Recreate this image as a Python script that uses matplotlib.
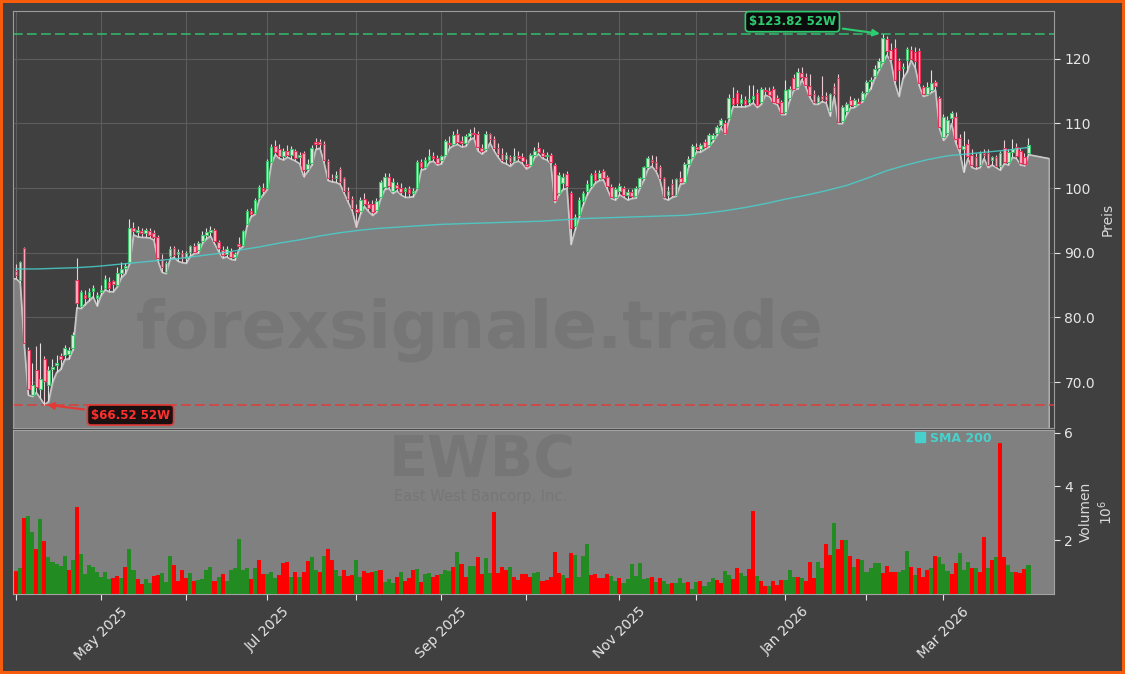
import numpy as np
import pandas as pd
import matplotlib
matplotlib.use('Agg')
import matplotlib.pyplot as plt
from matplotlib.lines import Line2D

# trading calendar (NYSE holidays removed)
holidays = ['2025-04-18', '2025-05-26', '2025-06-19', '2025-07-04', '2025-09-01',
            '2025-11-27', '2025-12-25', '2026-01-01', '2026-01-19', '2026-02-16']
dates = pd.bdate_range('2025-04-01', '2026-03-31')
dates = dates[~dates.isin(pd.to_datetime(holidays))]

# one line per week
opens = [
    87.2, 85.8, 90.8, 75.0,
    68.0, 71.8, 69.0, 73.5, 69.5,
    72.0, 72.6, 74.0, 74.2,
    74.3, 75.2, 85.8, 81.8, 83.5,
    83.2, 84.1, 83.0, 84.0, 84.6,
    85.5, 85.6, 85.0, 86.8, 87.6,
    88.5, 93.8, 93.2, 93.3, 93.0,
    93.3, 93.0, 92.5, 89.0, 87.0,
    89.5, 90.8, 89.8, 90.0,
    89.2, 90.1, 91.0, 90.4, 91.8,
    92.8, 93.2, 93.6, 91.6, 90.5,
    89.8, 90.3, 89.4, 91.3,
    91.2, 94.5, 96.4, 96.2, 98.5,
    100.0, 100.0, 104.0, 106.5,
    106.0, 105.0, 105.8, 105.2, 105.8,
    104.8, 105.5, 103.0, 103.9, 107.2,
    107.2, 106.8, 104.2, 101.6, 101.5,
    102.9, 101.5, 99.6, 98.3, 96.8,
    96.5, 98.3, 97.5, 97.5, 96.6,
    98.6, 100.2, 101.8, 99.6, 100.5,
    100.0, 99.5, 99.8, 99.3, 100.0,
    104.0, 103.3, 104.4, 105.0, 104.6,
    104.3, 105.2, 107.0, 106.9,
    108.3, 107.3, 107.0, 108.0, 108.6,
    108.4, 106.2, 106.0, 108.3, 107.6,
    106.2, 105.3, 104.5, 104.8, 104.2,
    105.0, 104.8, 103.8, 103.6, 105.2,
    106.2, 105.4, 105.0, 105.1, 103.6,
    99.2, 100.8, 102.2, 99.2, 94.2,
    95.8, 98.0, 99.5, 100.4, 102.4,
    101.6, 102.6, 101.7, 100.2, 98.7,
    99.6, 100.0, 99.0, 99.4, 98.8,
    100.2, 101.5, 103.2, 104.3, 104.0,
    103.3, 101.5, 98.9, 100.6, 99.0,
    101.5, 101.0, 103.8, 104.8,
    106.4, 106.0, 107.1, 106.6, 107.6,
    108.5, 109.7, 110.0, 110.8, 114.0,
    114.7, 113.2, 113.6, 113.3, 113.8,
    114.7, 113.3, 115.2, 115.1,
    115.3, 113.9, 113.3, 111.8,
    113.9, 117.0, 115.6, 117.8, 117.2,
    115.8, 114.6, 113.4, 114.2, 114.2,
    112.0, 115.6, 117.0, 110.4,
    112.0, 113.6, 112.9, 113.4, 113.6,
    114.8, 116.6, 117.4, 118.6, 119.5,
    123.0, 121.4, 121.6, 119.6, 118.6,
    119.8, 121.4, 121.0, 121.2,
    115.6, 114.6, 115.2, 116.4, 113.9,
    107.9, 108.5, 110.8, 111.0, 107.8,
    106.0, 106.8, 105.2, 104.8, 103.6,
    105.4, 105.4, 104.4, 104.8, 103.4,
    106.2, 104.0, 105.6, 106.3, 105.8,
    104.8, 105.5,
]
highs = [
    88.2, 88.8, 90.9, 75.5,
    73.0, 75.6, 76.0, 74.0, 72.5,
    73.5, 74.2, 74.5, 75.8,
    75.5, 77.8, 89.2, 84.2, 84.3,
    84.6, 85.0, 84.0, 85.0, 86.5,
    86.2, 85.8, 87.8, 88.5, 88.4,
    95.3, 94.8, 94.2, 93.9, 93.8,
    93.9, 93.6, 92.7, 89.8, 88.8,
    91.0, 91.0, 90.6, 90.5,
    90.3, 91.2, 91.5, 91.8, 93.3,
    93.8, 94.2, 93.9, 92.0, 91.0,
    91.0, 90.8, 90.2, 92.4,
    93.5, 96.8, 97.0, 98.5, 100.5,
    100.8, 104.5, 106.8, 107.5,
    106.9, 106.2, 106.6, 106.5, 106.0,
    105.6, 105.8, 104.5, 106.6, 107.8,
    107.6, 107.3, 104.5, 102.2, 102.6,
    103.3, 101.8, 100.2, 98.8, 97.6,
    98.6, 99.2, 98.0, 98.2, 98.5,
    101.2, 102.4, 102.3, 101.5, 101.0,
    100.8, 100.2, 100.4, 100.0, 104.4,
    104.5, 104.8, 106.0, 105.6, 105.2,
    105.2, 107.6, 108.0, 108.8,
    109.2, 108.0, 108.3, 109.2, 109.4,
    108.8, 106.8, 108.8, 108.6, 108.0,
    107.0, 106.2, 105.6, 105.2, 106.2,
    105.8, 105.4, 104.5, 105.4, 106.3,
    107.2, 106.0, 105.6, 105.5, 103.9,
    102.5, 102.4, 102.6, 99.5, 96.0,
    98.6, 99.6, 101.2, 102.4, 102.8,
    102.8, 102.9, 102.0, 100.6, 100.2,
    100.8, 100.3, 99.8, 99.9, 100.4,
    101.8, 103.5, 104.9, 105.2, 105.0,
    103.6, 101.8, 100.4, 101.4, 101.6,
    102.6, 104.0, 105.0, 106.8,
    107.0, 107.0, 107.6, 108.5, 108.6,
    109.8, 110.8, 110.6, 114.5, 115.6,
    115.2, 114.6, 114.3, 116.0, 116.0,
    115.4, 115.6, 115.6, 115.6,
    115.8, 114.4, 113.6, 116.8,
    115.8, 117.6, 118.6, 118.8, 117.8,
    117.6, 115.2, 114.4, 117.4, 114.8,
    114.7, 116.2, 117.6, 112.8,
    113.4, 114.2, 114.0, 114.0, 115.0,
    116.8, 117.2, 119.0, 120.2, 123.82,
    123.5, 122.5, 123.0, 120.2, 119.4,
    121.8, 122.0, 121.8, 121.6,
    116.0, 116.4, 118.3, 116.8, 114.2,
    111.4, 111.2, 112.0, 111.8, 108.4,
    108.8, 107.6, 106.0, 105.4, 105.8,
    106.0, 106.0, 105.0, 105.2, 105.8,
    107.4, 106.0, 107.6, 107.0, 106.2,
    105.4, 107.7,
]
lows = [
    86.0, 85.4, 75.8, 68.0,
    67.8, 68.4, 67.5, 66.52, 67.0,
    70.0, 71.5, 72.0, 73.5,
    73.6, 75.0, 81.5, 81.4, 82.0,
    82.6, 83.2, 81.8, 83.5, 84.3,
    84.0, 84.0, 84.8, 86.2, 86.8,
    88.3, 92.8, 92.5, 92.4, 92.4,
    92.3, 92.0, 88.8, 87.0, 86.8,
    89.0, 89.3, 88.7, 88.5,
    88.4, 89.5, 89.9, 90.0, 91.5,
    92.2, 92.6, 91.4, 90.2, 89.2,
    89.4, 89.0, 88.9, 90.5,
    91.0, 94.2, 95.6, 96.0, 98.2,
    99.0, 99.8, 103.8, 105.2,
    104.6, 104.4, 104.8, 104.5, 104.2,
    103.8, 101.8, 102.6, 103.6, 106.0,
    106.2, 104.0, 101.2, 101.0, 100.9,
    100.6, 99.2, 97.8, 96.5, 94.0,
    96.0, 97.2, 96.4, 95.8, 96.3,
    98.4, 99.8, 100.0, 99.2, 99.6,
    99.0, 98.6, 98.6, 98.7, 99.8,
    102.8, 103.0, 104.0, 104.2, 103.6,
    103.8, 105.0, 106.2, 106.6,
    106.8, 106.4, 106.5, 107.5, 107.8,
    105.8, 105.3, 105.8, 107.0, 105.8,
    104.8, 104.0, 103.8, 103.4, 104.0,
    104.2, 103.8, 103.0, 103.4, 104.8,
    105.3, 104.6, 104.4, 103.8, 97.8,
    99.0, 99.8, 100.0, 91.3, 93.5,
    95.5, 97.4, 99.0, 100.0, 100.8,
    101.2, 101.3, 99.8, 98.4, 98.2,
    99.0, 98.6, 98.2, 98.4, 98.5,
    100.0, 101.3, 103.0, 103.4, 102.6,
    101.2, 98.4, 98.2, 98.6, 98.8,
    100.6, 100.8, 103.2, 104.6,
    105.6, 105.6, 106.0, 106.4, 107.2,
    108.2, 109.4, 108.4, 110.5, 112.6,
    112.6, 112.6, 112.6, 112.8, 113.2,
    112.5, 113.0, 114.4, 114.2,
    113.2, 112.9, 111.4, 111.4,
    113.6, 115.2, 115.4, 116.8, 115.6,
    114.0, 113.0, 113.0, 113.4, 113.2,
    111.2, 114.2, 110.0, 110.0,
    111.3, 112.4, 112.5, 113.0, 113.4,
    114.6, 115.4, 117.0, 118.2, 119.4,
    120.6, 119.6, 116.2, 114.2, 117.0,
    118.0, 119.8, 118.6, 115.8,
    114.2, 114.4, 114.8, 115.2, 109.2,
    107.4, 108.2, 110.0, 107.0, 105.6,
    102.5, 104.6, 103.2, 103.0, 103.2,
    104.6, 103.2, 103.6, 103.2, 102.8,
    103.8, 103.6, 104.8, 104.6, 103.6,
    103.5, 105.2,
]
closes = [
    86.6, 88.5, 76.0, 69.0,
    69.5, 69.2, 70.5, 70.2, 71.8,
    72.4, 73.0, 73.6, 75.3,
    75.0, 77.3, 82.2, 83.9, 83.0,
    84.0, 84.5, 83.5, 84.2, 86.0,
    84.5, 85.2, 86.8, 87.5, 87.9,
    93.9, 93.4, 93.6, 93.0, 93.5,
    92.8, 92.5, 89.2, 87.8, 88.4,
    90.6, 89.6, 90.2, 89.2,
    90.0, 91.0, 90.2, 91.5, 92.8,
    93.2, 93.6, 91.8, 90.8, 89.6,
    90.6, 89.3, 89.8, 91.0,
    93.3, 96.5, 96.0, 98.2, 100.2,
    99.5, 104.2, 106.4, 105.6,
    105.0, 105.8, 105.2, 106.0, 104.6,
    105.2, 102.8, 103.8, 106.2, 106.8,
    106.9, 104.3, 101.6, 101.5, 102.0,
    100.9, 99.6, 98.3, 97.0, 96.3,
    98.2, 97.6, 97.0, 96.3, 98.0,
    100.9, 101.8, 100.3, 101.0, 100.0,
    99.4, 99.8, 99.2, 99.6, 104.0,
    103.2, 104.4, 105.0, 104.6, 103.9,
    105.0, 107.3, 106.8, 108.2,
    107.2, 107.0, 108.0, 108.6, 108.3,
    106.3, 105.8, 108.4, 107.6, 106.2,
    105.3, 104.4, 105.2, 104.0, 105.0,
    104.6, 104.2, 103.4, 105.1, 105.8,
    105.6, 105.0, 105.2, 104.0, 98.2,
    102.0, 101.8, 100.4, 93.8, 95.5,
    98.2, 99.2, 100.6, 102.0, 101.2,
    102.4, 101.6, 100.3, 98.7, 99.8,
    100.4, 99.0, 99.4, 98.8, 100.0,
    101.5, 103.2, 104.6, 104.0, 103.0,
    101.5, 98.7, 99.6, 99.0, 101.4,
    101.0, 103.8, 104.5, 106.5,
    106.0, 106.6, 106.3, 108.2, 108.2,
    109.4, 110.5, 108.6, 114.0, 113.0,
    113.1, 113.8, 113.0, 113.8, 114.2,
    112.9, 115.3, 115.0, 114.4,
    113.4, 113.1, 111.6, 115.2,
    115.4, 115.4, 118.0, 117.2, 116.0,
    114.4, 113.4, 114.1, 113.8, 113.6,
    114.6, 114.5, 110.2, 112.6,
    113.0, 112.8, 113.6, 113.2, 114.7,
    116.4, 116.8, 118.5, 119.6, 123.2,
    121.2, 120.0, 116.8, 118.2, 118.8,
    121.5, 120.0, 119.6, 116.2,
    114.5, 115.6, 116.2, 115.8, 109.4,
    111.0, 110.6, 111.6, 107.6, 106.2,
    106.5, 105.0, 103.6, 103.4, 105.4,
    105.1, 103.6, 104.8, 103.5, 105.4,
    104.0, 105.6, 106.0, 105.0, 103.9,
    103.8, 106.6,
]

# volume in millions, bar colours g/r
volumes = [
    0.86, 0.96, 2.81, 2.89, 2.30, 1.67, 2.78, 1.96, 1.37, 1.20,
    1.10, 1.05, 1.40, 0.90, 1.28, 3.22, 1.48, 0.74, 1.08, 1.02,
    0.80, 0.63, 0.80, 0.56, 0.59, 0.68, 0.60, 0.99, 1.67, 0.89,
    0.56, 0.38, 0.56, 0.41, 0.68, 0.72, 0.79, 0.44, 1.40, 1.08,
    0.49, 0.88, 0.60, 0.79, 0.49, 0.53, 0.56, 0.90, 1.00, 0.49,
    0.63, 0.74, 0.49, 0.90, 0.96, 2.04, 0.88, 0.96, 0.56, 0.96,
    1.28, 0.74, 0.74, 0.80, 0.60, 0.72, 1.16, 1.20, 0.63, 0.81,
    0.63, 0.81, 1.23, 1.37, 0.88, 0.81, 1.40, 1.67, 1.28, 0.90,
    0.68, 0.88, 0.68,
    0.70, 1.26, 0.63, 0.85, 0.78, 0.81, 0.85, 0.89, 0.44, 0.56,
    0.41, 0.63, 0.81, 0.48, 0.59, 0.89, 0.93, 0.44, 0.74, 0.78,
    0.63, 0.70, 0.74, 0.89, 0.85, 1.00, 1.56, 1.11, 0.63, 1.04,
    1.04, 1.37, 0.74, 1.33, 0.78, 3.04, 0.78, 1.00, 0.89, 1.00,
    0.63, 0.52, 0.74, 0.74, 0.63, 0.78, 0.81, 0.48, 0.52, 0.63,
    1.56, 0.78, 0.70, 0.59, 1.52, 1.44, 0.63, 1.41, 1.85, 0.70,
    0.74, 0.59, 0.59, 0.74, 0.67, 0.48, 0.59, 0.41, 0.56, 1.11,
    0.67, 1.15, 0.56, 0.59, 0.63, 0.44, 0.59, 0.48, 0.37, 0.41,
    0.41, 0.59, 0.41, 0.44, 0.19, 0.44, 0.48, 0.30, 0.44, 0.59,
    0.52, 0.41, 0.85, 0.70, 0.56, 0.96,
    0.78, 0.67, 0.93, 3.07, 0.67, 0.48, 0.30, 0.30, 0.48, 0.33,
    0.52, 0.52, 0.89, 0.63, 0.63, 0.59, 0.48, 1.19, 0.59, 1.19,
    0.96, 1.85, 1.44, 2.63, 1.67, 2.00, 2.00, 1.41, 1.00, 1.30,
    1.26, 0.81, 0.96, 1.15, 1.15, 0.78, 1.04, 0.81, 0.81,
    0.81, 0.89, 1.59, 1.00, 0.70, 0.96, 0.63, 0.89, 0.96, 1.41,
    1.37, 1.11, 0.85, 0.74, 1.15, 1.52, 0.89, 1.19, 0.96, 0.96,
    0.81, 2.11, 0.96, 1.26, 1.37, 5.63, 1.37, 1.07, 0.81, 0.81,
    0.78, 0.93, 1.07,
]
vol_dir = ("rgrggrgrgg" "gggrgrgggg" "ggggrrgrgg" "rrggrrgggr" "rrrgrggggr"
           "grggggggrg" "rrgggrrrgr" "grrggrgrrg" "grr"
           "rggrrrgrgg" "grgrrrgrgg" "rrgggrgrrg" "grrggrrrrg" "rrrrrggrrr"
           "rrgrrggggr" "rrrrggrggg" "ggggrgrggr" "gggrggrggg" "rrggrr"
           "ggrrgrrgrr" "rgggrgrrrg" "grrgrrgrgr" "gggggrrrr" "gggrgrrrgr"
           "gggrrgggrg" "rrgrgrrggr" "rrg")

# SMA 200, read every 5th session
sma_every = 5
sma200 = [87.5, 87.5, 87.6, 87.7, 87.9, 88.2, 88.5, 88.8, 89.1, 89.5,
          89.9, 90.4, 90.9, 91.5, 92.0, 92.6, 93.1, 93.5, 93.8, 94.0,
          94.2, 94.4, 94.5, 94.6, 94.7, 94.8, 94.9, 95.1, 95.3, 95.4,
          95.5, 95.6, 95.7, 95.8, 96.1, 96.5, 97.0, 97.6, 98.3, 98.9,
          99.6, 100.4, 101.5, 102.7, 103.6, 104.4, 105.0, 105.3, 105.6, 105.9,
          106.3]

tail_days = 5
tail_low = 104.6

price_ticks = [70, 80, 90, 100, 110, 120]
price_tick_labels = ['70.0', '80.0', '90.0', '100', '110', '120']
vol_ticks = [2, 4, 6]

BG = '#404040'
FILLC = '#808080'
GREEN = '#2ecc71'
RED = '#e53935'
TURQ = '#48d1cc'

o = np.array(opens); h = np.array(highs); l = np.array(lows); c = np.array(closes)
v = np.array(volumes)
assert len(o) == len(h) == len(l) == len(c) == len(v) == len(vol_dir) == len(dates)
x = np.arange(len(dates))
xlim = (-0.75, 256.3)

fig = plt.figure(figsize=(11.25, 6.74), dpi=100, facecolor=BG,
                 edgecolor='#f75b0c', linewidth=3)
W, H = 1125, 674
ax = fig.add_axes([13 / W, 1 - 428 / H, 1041 / W, 417 / H])
axv = fig.add_axes([13 / W, 1 - 594 / H, 1041 / W, 164 / H], sharex=ax)

# price panel: grey area under the lows
ax.set_facecolor(BG)
ax.set_axisbelow(True)
ax.grid(True, color='#5c5c5c', lw=0.8)
fx = np.r_[xlim[0], x, x[-1] + tail_days]
fl = np.r_[l[0], l, tail_low]
ax.fill_between(fx, fl, 60, facecolor=FILLC, edgecolor='#b4b4b4', lw=1, zorder=1)
ax.plot(fx, fl, color='#c8c8c8', lw=1, zorder=2)

up = c >= o
lo_b = np.minimum(o, c)
hb = np.maximum(np.abs(c - o), 0.12)
ax.vlines(x[up], l[up], h[up], color='#e2e2e2', lw=0.8, zorder=3)
ax.vlines(x[~up], l[~up], h[~up], color='#ecccd4', lw=0.8, zorder=3)
ax.bar(x[up], hb[up], bottom=lo_b[up], width=0.65, color='#d9efdc',
       edgecolor='#3cc46a', lw=0.8, zorder=4)
ax.bar(x[~up], hb[~up], bottom=lo_b[~up], width=0.65, color='#ffb1c3',
       edgecolor='#e8325a', lw=0.8, zorder=4)

ax.plot(x[::sma_every], sma200, color=TURQ, lw=1, alpha=0.85, zorder=5)

hi_i = int(np.argmax(h)); hi_v = h[hi_i]
lo_i = int(np.argmin(l)); lo_v = l[lo_i]
ax.axhline(hi_v, color=GREEN, ls=(0, (5, 2.2)), lw=1.4, alpha=0.7, zorder=2)
ax.axhline(lo_v, color=RED, ls=(0, (5, 2.2)), lw=1.4, alpha=0.75, zorder=2)
ax.annotate('\\$%.2f 52W' % hi_v, xy=(hi_i, hi_v), xytext=(-65, 9),
            textcoords='offset points', ha='center', va='center',
            fontsize=8.5, fontweight='bold', color=GREEN,
            bbox=dict(boxstyle='round,pad=0.3', fc='#0c0c0c', ec=GREEN, lw=1.2),
            arrowprops=dict(arrowstyle='-|>', color=GREEN, lw=1.5, mutation_scale=10),
            zorder=10)
ax.annotate('\\$%.2f 52W' % lo_v, xy=(lo_i, lo_v), xytext=(62, -7.5),
            textcoords='offset points', ha='center', va='center',
            fontsize=8.5, fontweight='bold', color='#ff3030',
            bbox=dict(boxstyle='round,pad=0.3', fc='#1a1010', ec=RED, lw=1.2),
            arrowprops=dict(arrowstyle='-|>', color=RED, lw=1.5, mutation_scale=10),
            zorder=10)

ax.set_xlim(*xlim)
ax.set_ylim(62.9, 127.4)
ax.yaxis.tick_right()
ax.yaxis.set_label_position('right')
ax.set_yticks(price_ticks, price_tick_labels)
ax.set_ylabel('Preis', color='#d8d8d8', fontsize=10)
ax.tick_params(axis='y', colors='#e6e6e6', labelsize=10, length=4)
ax.tick_params(axis='x', bottom=False, labelbottom=False)
for s in ax.spines.values():
    s.set_color('#9c9c9c')

# volume panel
axv.set_facecolor(FILLC)
vcol = ['#228b22' if d == 'g' else '#ff0000' for d in vol_dir]
axv.bar(x, v, width=1.0, color=vcol, zorder=2)
axv.set_ylim(0, 6.1)
axv.yaxis.tick_right()
axv.yaxis.set_label_position('right')
axv.set_yticks(vol_ticks)
axv.set_ylabel('Volumen\n$10^6$', color='#d8d8d8', fontsize=10)
axv.tick_params(axis='y', colors='#e6e6e6', labelsize=10, length=4)
for s in axv.spines.values():
    s.set_color('#a4a4a4')

month_pos = np.flatnonzero(np.r_[True, dates.month[1:] != dates.month[:-1]])
month_lab = [dates[i].strftime('%b %Y') if dates[i].month % 2 == 1 else ''
             for i in month_pos]
axv.set_xticks(month_pos, month_lab, rotation=45, ha='center')
axv.tick_params(axis='x', colors='#e6e6e6', labelsize=10, length=4)

h_leg = Line2D([], [], marker='s', ls='none', color=TURQ, markersize=7)
leg = axv.legend([h_leg], ['SMA 200'], loc='upper left', bbox_to_anchor=(0.865, 0.99),
                 frameon=False, prop={'weight': 'bold', 'size': 9},
                 handlelength=1, handletextpad=0.3, borderpad=0, borderaxespad=0)
for t in leg.get_texts():
    t.set_color(TURQ)

# watermarks
fig.text(480 / W, 1 - 348 / H, 'forexsignale.trade', ha='center', va='baseline',
         fontsize=47.5, fontweight='bold', color='black', alpha=0.07)
fig.text(482 / W, 1 - 477 / H, 'EWBC', ha='center', va='baseline',
         fontsize=41, fontweight='bold', color='black', alpha=0.07)
fig.text(481 / W, 1 - 501 / H, 'East West Bancorp, Inc.', ha='center', va='baseline',
         fontsize=10.5, color='black', alpha=0.07)

fig.savefig('out.png', dpi=100, facecolor=fig.get_facecolor(),
            edgecolor=fig.get_edgecolor())
